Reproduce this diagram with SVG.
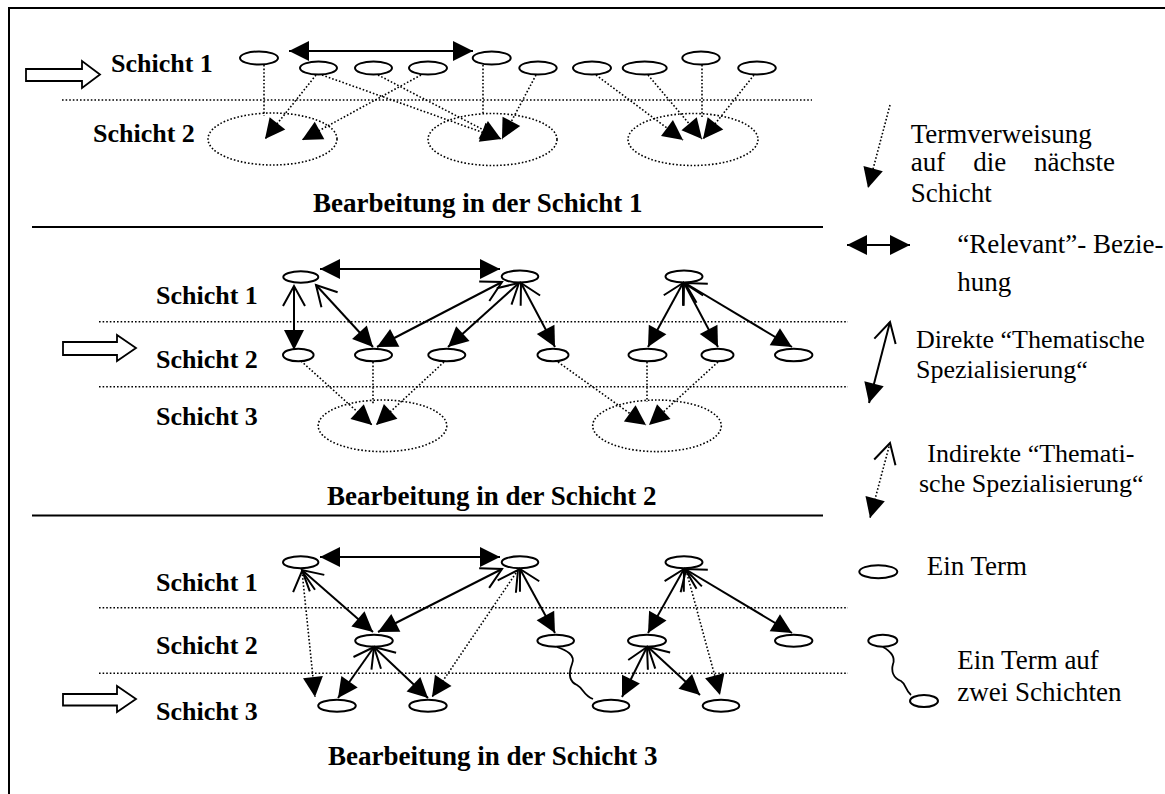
<svg xmlns="http://www.w3.org/2000/svg" width="1165" height="794" viewBox="0 0 1165 794">
<style>
.n{fill:#fff;stroke:#000;stroke-width:2}
.lay{fill:none;stroke:#000;stroke-width:1.6;stroke-dasharray:1.6 2}
.d{fill:none;stroke:#000;stroke-width:1.6;stroke-dasharray:1.6 2}
.s{fill:none;stroke:#000;stroke-width:2}
.w{fill:none;stroke:#000;stroke-width:1.8}
.hl{fill:#fff;stroke:#000;stroke-width:1.8}
.b{font-family:"Liberation Serif","Times New Roman",serif;font-weight:bold;font-size:26px;fill:#000}
.bt{font-family:"Liberation Serif","Times New Roman",serif;font-weight:bold;font-size:27px;fill:#000}
.t{font-family:"Liberation Serif","Times New Roman",serif;font-size:27px;fill:#000}
.t2{font-family:"Liberation Serif","Times New Roman",serif;font-size:26px;fill:#000}
</style>
<defs>
<marker id="fh" markerUnits="userSpaceOnUse" markerWidth="22" markerHeight="22" refX="20" refY="10" orient="auto-start-reverse" overflow="visible"><path d="M0,0 L20,10 L0,20 z" fill="#000"/></marker>
<marker id="ov" markerUnits="userSpaceOnUse" markerWidth="24" markerHeight="24" refX="20" refY="11" orient="auto-start-reverse" overflow="visible"><path d="M0,0 L20,11 L0,22" fill="none" stroke="#000" stroke-width="2"/></marker>
</defs>
<rect x="9" y="8" width="1170" height="800" fill="none" stroke="#000" stroke-width="2"/>
<g id="frame-lines">
<path d="M62,100 H812" class="d"/>
<path d="M99,321.7 H848 M99,386.7 H848" class="d"/>
<path d="M99,607.7 H848 M99,673.3 H848" class="d"/>
<path d="M32,227 H823 M32,515.5 H823" stroke="#000" stroke-width="2.2"/>
</g>
<g id="inputs">
<polygon class="hl" points="26,69 82,69 82,61 100,74.5 82,88 82,81 26,81"/>
<polygon class="hl" points="63,342 117,342 117,335 136,348 117,361 117,355 63,355"/>
<polygon class="hl" points="63,694 117,694 117,686 136,699 117,712 117,705.5 63,705.5"/>
</g>
<g id="labels">
<text class="b" x="111" y="72">Schicht 1</text>
<text class="b" x="93" y="142">Schicht 2</text>
<text class="bt" x="313" y="212">Bearbeitung in der Schicht 1</text>
<text class="b" x="156" y="304">Schicht 1</text>
<text class="b" x="156" y="368">Schicht 2</text>
<text class="b" x="156" y="425">Schicht 3</text>
<text class="bt" x="327" y="505">Bearbeitung in der Schicht 2</text>
<text class="b" x="156" y="591">Schicht 1</text>
<text class="b" x="156" y="654">Schicht 2</text>
<text class="b" x="156" y="720">Schicht 3</text>
<text class="bt" x="328" y="765">Bearbeitung in der Schicht 3</text>
</g>
<g id="top-layer">
<g id="t-A"><ellipse class="n" cx="259" cy="58" rx="19" ry="6.5"/></g>
<g id="t-B"><ellipse class="n" cx="318.5" cy="68" rx="18.5" ry="6.5"/></g>
<g id="t-C"><ellipse class="n" cx="373.5" cy="68" rx="18.5" ry="6.5"/></g>
<g id="t-D"><ellipse class="n" cx="428" cy="68" rx="19" ry="6.5"/></g>
<g id="t-E"><ellipse class="n" cx="491.7" cy="58" rx="19" ry="6.5"/></g>
<g id="t-F"><ellipse class="n" cx="538" cy="68" rx="18.7" ry="6.5"/></g>
<g id="t-G"><ellipse class="n" cx="592" cy="68" rx="19" ry="6.5"/></g>
<g id="t-H"><ellipse class="n" cx="644.7" cy="68" rx="22" ry="6.5"/></g>
<g id="t-I"><ellipse class="n" cx="701" cy="58" rx="18.7" ry="6.5"/></g>
<g id="t-J"><ellipse class="n" cx="757" cy="68" rx="18.8" ry="6.5"/></g>
<g id="t-E1"><ellipse class="lay" cx="272.5" cy="139" rx="64.5" ry="26"/></g>
<g id="t-E2"><ellipse class="lay" cx="492.5" cy="139.5" rx="64.5" ry="26"/></g>
<g id="t-E3"><ellipse class="lay" cx="693" cy="139.5" rx="65" ry="26"/></g>
</g>
<g id="mid-layer">
<g id="m-K"><ellipse class="n" cx="300.8" cy="277" rx="17.5" ry="5.7"/></g>
<g id="m-L"><ellipse class="n" cx="520" cy="276.5" rx="18.3" ry="6"/></g>
<g id="m-M"><ellipse class="n" cx="684" cy="276.5" rx="18.5" ry="6"/></g>
<g id="m-N"><ellipse class="n" cx="298.3" cy="355" rx="15.3" ry="6.3"/></g>
<g id="m-O"><ellipse class="n" cx="373.5" cy="355" rx="18.5" ry="6.3"/></g>
<g id="m-P"><ellipse class="n" cx="446.8" cy="355" rx="18.5" ry="6.3"/></g>
<g id="m-Q"><ellipse class="n" cx="553" cy="355" rx="15.5" ry="6.3"/></g>
<g id="m-R"><ellipse class="n" cx="647.5" cy="355" rx="19" ry="6.3"/></g>
<g id="m-S"><ellipse class="n" cx="717.5" cy="355" rx="16" ry="6.3"/></g>
<g id="m-T"><ellipse class="n" cx="793.7" cy="355" rx="18.7" ry="6.3"/></g>
<g id="m-E4"><ellipse class="lay" cx="382.5" cy="425.8" rx="64.3" ry="25.8"/></g>
<g id="m-E5"><ellipse class="lay" cx="657" cy="425.8" rx="64.3" ry="25.8"/></g>
</g>
<g id="bottom-layer">
<g id="b-U"><ellipse class="n" cx="300.7" cy="562.3" rx="17.7" ry="6"/></g>
<g id="b-V"><ellipse class="n" cx="520" cy="562.3" rx="18.3" ry="6"/></g>
<g id="b-W"><ellipse class="n" cx="684" cy="562.3" rx="18.5" ry="6"/></g>
<g id="b-X"><ellipse class="n" cx="374" cy="640.7" rx="18.8" ry="6"/></g>
<g id="b-Y"><ellipse class="n" cx="555.7" cy="640.7" rx="18.3" ry="6"/></g>
<g id="b-Z"><ellipse class="n" cx="647" cy="640.7" rx="19" ry="6"/></g>
<g id="b-AA"><ellipse class="n" cx="793.7" cy="640.7" rx="18.7" ry="6"/></g>
<g id="b-BB"><ellipse class="n" cx="337" cy="705.7" rx="18.8" ry="6"/></g>
<g id="b-CC"><ellipse class="n" cx="428" cy="705.7" rx="18.7" ry="6"/></g>
<g id="b-DD"><ellipse class="n" cx="611" cy="705.7" rx="18.3" ry="6"/></g>
<g id="b-EE"><ellipse class="n" cx="721" cy="705.7" rx="18.3" ry="6"/></g>
</g>
<g id="connectors">
<path class="s" d="M289,51 H473" marker-start="url(#fh)" marker-end="url(#fh)"/>
<path class="d" d="M264,65 V116"/>
<path class="d" d="M316,75 L265,139" marker-end="url(#fh)"/>
<path class="d" d="M421,75 L302,140" marker-end="url(#fh)"/>
<path class="d" d="M322,75 L501,139" marker-end="url(#fh)"/>
<path class="d" d="M378,75 L501,139" marker-end="url(#fh)"/>
<path class="d" d="M483,65 V113"/>
<path class="d" d="M536,75 L502,139" marker-end="url(#fh)"/>
<path class="d" d="M596,75 L683,140" marker-end="url(#fh)"/>
<path class="d" d="M648,75 L702,139" marker-end="url(#fh)"/>
<path class="d" d="M702,65 V117"/>
<path class="d" d="M754,75 L703,139" marker-end="url(#fh)"/>
<path class="s" d="M320,269 H500" marker-start="url(#fh)" marker-end="url(#fh)"/>
<path class="s" d="M294,286 V350" marker-start="url(#ov)" marker-end="url(#fh)"/>
<path class="s" d="M316,285 L373,347" marker-start="url(#ov)" marker-end="url(#fh)"/>
<path class="s" d="M502,282 L377,347" marker-start="url(#ov)" marker-end="url(#fh)"/>
<path class="s" d="M519,283 L448,347" marker-start="url(#ov)" marker-end="url(#fh)"/>
<path class="s" d="M521,283 L555,347" marker-start="url(#ov)" marker-end="url(#fh)"/>
<path class="s" d="M683,283 L648,347" marker-start="url(#ov)" marker-end="url(#fh)"/>
<path class="s" d="M684,283 L718,347" marker-start="url(#ov)" marker-end="url(#fh)"/>
<path class="s" d="M685,283 L792,347" marker-start="url(#ov)" marker-end="url(#fh)"/>
<path class="d" d="M301,361 L372,425" marker-end="url(#fh)"/>
<path class="d" d="M373,362 V404"/>
<path class="d" d="M444,362 L376,425" marker-end="url(#fh)"/>
<path class="d" d="M558,362 L646,425" marker-end="url(#fh)"/>
<path class="d" d="M647,362 V402"/>
<path class="d" d="M718,362 L649,425" marker-end="url(#fh)"/>
<path class="s" d="M320,557 H500" marker-start="url(#fh)" marker-end="url(#fh)"/>
<path class="s" d="M302,570 L373,632" marker-start="url(#ov)" marker-end="url(#fh)"/>
<path class="s" d="M502,569 L378,632" marker-start="url(#ov)" marker-end="url(#fh)"/>
<path class="s" d="M520,569 L555,633" marker-start="url(#ov)" marker-end="url(#fh)"/>
<path class="s" d="M684,569 L648,633" marker-start="url(#ov)" marker-end="url(#fh)"/>
<path class="s" d="M685,569 L792,633" marker-start="url(#ov)" marker-end="url(#fh)"/>
<path class="s" d="M374,647 L338,698" marker-start="url(#ov)" marker-end="url(#fh)"/>
<path class="s" d="M374,647 L428,698" marker-start="url(#ov)" marker-end="url(#fh)"/>
<path class="s" d="M647,647 L622,697" marker-start="url(#ov)" marker-end="url(#fh)"/>
<path class="s" d="M648,647 L700,695" marker-start="url(#ov)" marker-end="url(#fh)"/>
<path class="d" d="M302,571 L315,697" marker-start="url(#ov)" marker-end="url(#fh)"/>
<path class="d" d="M518,570 L432,697" marker-start="url(#ov)" marker-end="url(#fh)"/>
<path class="d" d="M686,570 L720,695" marker-start="url(#ov)" marker-end="url(#fh)"/>
<path class="w" d="M557,647 C566,650 576,655 572,664 C569,672 568,681 577,685 C584,689 583,695 593,699"/>
</g>
<g id="legend">
<g id="leg-ref">
<path class="d" d="M890,105 L868,188" marker-end="url(#fh)"/>
<text class="t" x="910.7" y="142.7">Termverweisung</text>
<text class="t" x="910.7" y="170.7">auf</text>
<text class="t" x="973.3" y="170.7">die</text>
<text class="t" x="1034" y="170.7">nächste</text>
<text class="t" x="910.7" y="201.7">Schicht</text>
</g>
<g id="leg-rel">
<path class="s" d="M847,245 H910" marker-start="url(#fh)" marker-end="url(#fh)"/>
<text class="t" x="957.3" y="253.3">“Relevant”- Bezie-</text>
<text class="t" x="957.3" y="290.7">hung</text>
</g>
<g id="leg-direct">
<path class="s" d="M890,322 L869,403" marker-start="url(#ov)" marker-end="url(#fh)"/>
<text class="t2" x="916" y="348">Direkte “Thematische</text>
<text class="t2" x="916" y="377.5">Spezialisierung“</text>
</g>
<g id="leg-indirect">
<path class="d" d="M890,443 L870,518" marker-start="url(#ov)" marker-end="url(#fh)"/>
<text class="t2" x="927.3" y="462">Indirekte “Themati-</text>
<text class="t2" x="919" y="491.5">sche Spezialisierung“</text>
</g>
<g id="leg-term">
<ellipse class="n" cx="878.3" cy="571.7" rx="19" ry="6.5"/>
<text class="t" x="926.7" y="575">Ein Term</text>
</g>
<g id="leg-two">
<ellipse class="n" cx="882.8" cy="640.7" rx="14.5" ry="6"/>
<ellipse class="n" cx="924" cy="701" rx="14" ry="6"/>
<path class="w" d="M883,647 C890,651 896,656 893,664 C891,671 893,678 901,681 C906,684 905,690 911,695"/>
<text class="t" x="957.3" y="669.3">Ein Term auf</text>
<text class="t" x="957.3" y="700.7">zwei Schichten</text>
</g>
</g>
</svg>
